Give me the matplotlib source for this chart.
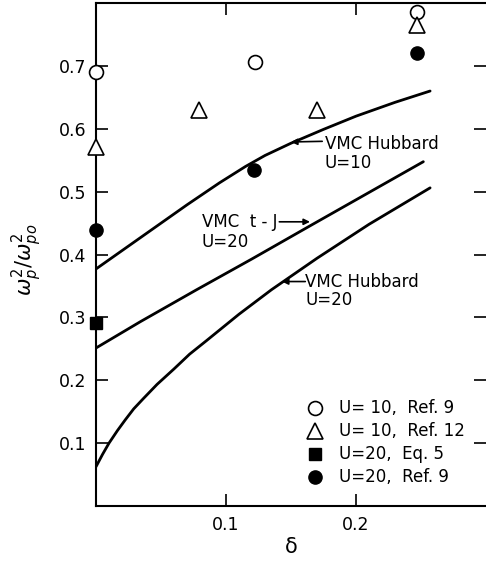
import matplotlib
matplotlib.use("Agg")
import matplotlib.pyplot as plt

plt.rcParams['font.family'] = ['DejaVu Sans']
plt.rcParams['mathtext.fontset'] = 'dejavusans'

# ---- data ----
hub10_x = [0.0, 0.035, 0.07, 0.095, 0.115, 0.13, 0.15, 0.175, 0.2, 0.23, 0.257]
hub10_y = [0.377, 0.428, 0.479, 0.514, 0.540, 0.5575, 0.577, 0.599, 0.620, 0.642, 0.660]

tj20_x = [0.0, 0.034, 0.077, 0.12, 0.165, 0.2518]
tj20_y = [0.2513, 0.293, 0.3435, 0.393, 0.446, 0.5476]

hub20_x = [0.0, 0.005, 0.01, 0.0165, 0.0225, 0.029, 0.0365, 0.047, 0.06, 0.072, 0.085,
           0.11, 0.135, 0.17, 0.21, 0.257]
hub20_y = [0.0625, 0.082, 0.100, 0.120, 0.137, 0.1545, 0.171, 0.1935, 0.218, 0.2415, 0.263,
           0.305, 0.344, 0.394, 0.448, 0.506]

u10_ref9_x = [0.0, 0.1223, 0.247]
u10_ref9_y = [0.690, 0.706, 0.786]

u10_ref12_x = [0.0, 0.0792, 0.170, 0.247]
u10_ref12_y = [0.571, 0.630, 0.630, 0.765]

u20_eq5_x = [0.0]
u20_eq5_y = [0.291]

u20_ref9_x = [0.0, 0.1215, 0.247]
u20_ref9_y = [0.439, 0.534, 0.720]

legend_labels = ["U= 10,  Ref. 9", "U= 10,  Ref. 12", "U=20,  Eq. 5", "U=20,  Ref. 9"]
xticks = [0.1, 0.2]
yticks = [0.1, 0.2, 0.3, 0.4, 0.5, 0.6, 0.7]

W, H = 486, 561
fig = plt.figure(figsize=(W / 100, H / 100), dpi=100)
ax = fig.add_axes([96 / W, 55 / H, 390 / W, 503 / H])

lw = 2.0
for xs, ys in [(hub10_x, hub10_y), (tj20_x, tj20_y), (hub20_x, hub20_y)]:
    ax.plot(xs, ys, color='k', lw=lw, solid_joinstyle='round', solid_capstyle='round')

mk = dict(linestyle='none', color='k', clip_on=False, zorder=4)
h1, = ax.plot(u10_ref9_x, u10_ref9_y, marker='o', ms=10, mfc='white', mec='k', mew=1.2, **mk)
h2, = ax.plot(u10_ref12_x, u10_ref12_y, marker='^', ms=11, mfc='white', mec='k', mew=1.2, **mk)
h3, = ax.plot(u20_eq5_x, u20_eq5_y, marker='s', ms=8.5, mfc='k', mec='k', **mk)
h4, = ax.plot(u20_ref9_x, u20_ref9_y, marker='o', ms=9.5, mfc='k', mec='k', **mk)

ax.set_xlim(0, 0.3)
ax.set_ylim(0, 0.8)
ax.set_xticks(xticks)
ax.set_yticks(yticks)
ax.set_xticklabels([f"{t:.1f}" for t in xticks])
ax.set_yticklabels([f"{t:.1f}" for t in yticks])
ax.tick_params(direction='in', length=8.5, width=1.2, labelsize=12.5, pad=7,
               top=True, right=True)
for s in ax.spines.values():
    s.set_linewidth(1.5)
ax.spines['right'].set_visible(False)

fs = 12
arrow = dict(arrowstyle='-|>', color='k', lw=1.2, mutation_scale=9, shrinkA=0, shrinkB=0)

# VMC Hubbard U=10
ax.annotate('', xy=(0.150, 0.579), xytext=(0.174, 0.580), arrowprops=arrow)
ax.text(0.176, 0.576, 'VMC Hubbard', fontsize=fs, ha='left', va='center')
ax.text(0.176, 0.546, 'U=10', fontsize=fs, ha='left', va='center')

# VMC t-J U=20
ax.annotate('', xy=(0.1646, 0.452), xytext=(0.141, 0.452), arrowprops=arrow)
ax.text(0.0815, 0.452, 'VMC  t - J', fontsize=fs, ha='left', va='center')
ax.text(0.0815, 0.420, 'U=20', fontsize=fs, ha='left', va='center')

# VMC Hubbard U=20
ax.annotate('', xy=(0.143, 0.357), xytext=(0.161, 0.357), arrowprops=arrow)
ax.text(0.161, 0.357, 'VMC Hubbard', fontsize=fs, ha='left', va='center')
ax.text(0.161, 0.328, 'U=20', fontsize=fs, ha='left', va='center')

leg = ax.legend([h1, h2, h3, h4], legend_labels, loc='upper left',
                bbox_to_anchor=(0.541, 0.212), frameon=False, fontsize=fs,
                handlelength=1.0, handletextpad=0.9, labelspacing=0.3,
                borderpad=0, borderaxespad=0, numpoints=1)

fig.text(27 / W, 1 - 260 / H, r'$\omega_p^2/\omega_{po}^2$', rotation=90,
         ha='center', va='center', fontsize=15)
ax.set_xlabel('δ', fontsize=15)
ax.xaxis.set_label_coords(0.5, -0.062)

fig.savefig('out.png', dpi=100)
